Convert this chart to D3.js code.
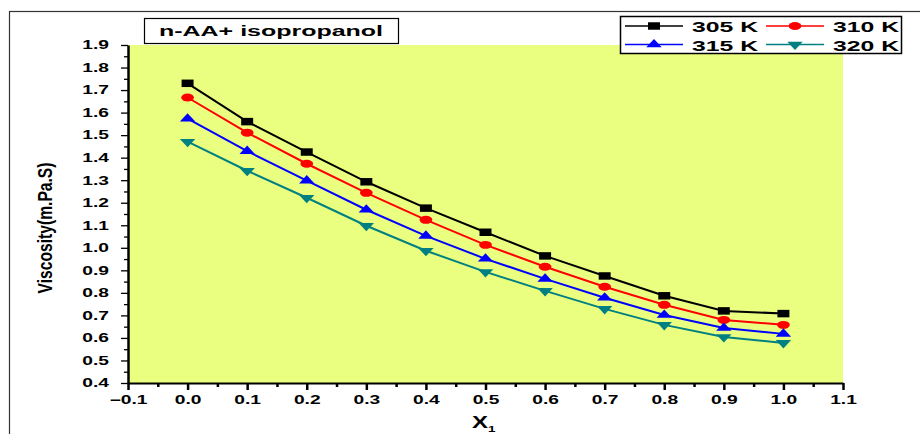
<!DOCTYPE html>
<meta charset="utf-8">
<script src="https://d3js.org/d3.v7.min.js"></script>
<body style="margin:0;background:#fff">
    <div id="viz"></div>
</body>
<style>
    text { font-family: "Liberation Sans", Arial, sans-serif; font-weight: bold; fill: #000; }
</style>
<script>
    // data
    let xValues = [0.0, 0.1, 0.2, 0.3, 0.4, 0.5, 0.6, 0.7, 0.8, 0.9, 1.0];
    let v305 = [1.73, 1.56, 1.425, 1.293, 1.176, 1.069, 0.964, 0.875, 0.787, 0.72, 0.708];
    let v310 = [1.667, 1.511, 1.373, 1.244, 1.124, 1.013, 0.916, 0.827, 0.747, 0.68, 0.658];
    let v315 = [1.573, 1.429, 1.298, 1.169, 1.053, 0.951, 0.862, 0.778, 0.702, 0.644, 0.618];
    let v320 = [1.471, 1.342, 1.222, 1.098, 0.987, 0.893, 0.809, 0.729, 0.658, 0.604, 0.578];
    let seriesNames = ["305 K", "310 K", "315 K", "320 K"];
    let xTicks = [-0.1, 0.0, 0.1, 0.2, 0.3, 0.4, 0.5, 0.6, 0.7, 0.8, 0.9, 1.0, 1.1];
    let yTicks = [0.4, 0.5, 0.6, 0.7, 0.8, 0.9, 1.0, 1.1, 1.2, 1.3, 1.4, 1.5, 1.6, 1.7, 1.8, 1.9];

    let series = [
        {name: seriesNames[0], values: v305, color: "#000000", symbol: d3.symbolSquare, size: 56, rot: 0},
        {name: seriesNames[1], values: v310, color: "#ff0000", symbol: d3.symbolCircle, size: 50, rot: 0},
        {name: seriesNames[2], values: v315, color: "#0000ff", symbol: d3.symbolTriangle, size: 40, rot: 0},
        {name: seriesNames[3], values: v320, color: "#008080", symbol: d3.symbolTriangle, size: 40, rot: 180}
    ];

    let width = 920, height = 434;
    let plot = {left: 128, right: 843, top: 45, bottom: 383};
    let stretch = 1.6; // the original picture is stretched sideways

    let svg = d3.select("#viz").append("svg")
        .attr("width", width)
        .attr("height", height);

    // outer frame
    svg.append("rect")
        .attr("x", 9.5).attr("y", 11.5)
        .attr("width", 930).attr("height", 440)
        .style("fill", "none").style("stroke", "#333").style("stroke-width", 1.2);

    let x = d3.scaleLinear().domain([-0.1, 1.1]).range([plot.left, plot.right]);
    let y = d3.scaleLinear().domain([0.4, 1.9]).range([plot.bottom, plot.top]);

    // plot background
    svg.append("rect")
        .attr("x", plot.left).attr("y", plot.top)
        .attr("width", plot.right - plot.left)
        .attr("height", plot.bottom - plot.top)
        .style("fill", "#eafe80");

    // minor ticks
    let xMinor = xTicks.slice(0, -1).map(d => d + 0.05);
    let yMinor = yTicks.slice(0, -1).map(d => d + 0.05);
    svg.append("g")
        .attr("transform", `translate(0,${plot.bottom})`)
        .call(d3.axisBottom(x).tickValues(xMinor).tickSize(4).tickFormat(""))
        .call(g => g.select(".domain").remove())
        .selectAll("line").attr("stroke-width", 2.5);
    svg.append("g")
        .attr("transform", `translate(${plot.left},0)`)
        .call(d3.axisLeft(y).tickValues(yMinor).tickSize(4).tickFormat(""))
        .call(g => g.select(".domain").remove())
        .selectAll("line").attr("stroke-width", 1.3);

    // major axes
    let xAxis = svg.append("g")
        .attr("transform", `translate(0,${plot.bottom})`)
        .call(d3.axisBottom(x).tickValues(xTicks).tickSize(7).tickSizeOuter(0).tickFormat(d3.format(".1f")));
    xAxis.selectAll(".tick text")
        .attr("font-size", 12).attr("dy", 11)
        .attr("transform", `scale(${stretch},1)`)
        .style("font-family", "Liberation Sans, Arial, sans-serif").style("font-weight", "bold");
    xAxis.selectAll("line").attr("stroke-width", 2.5);
    xAxis.select(".domain").attr("stroke-width", 1.8);

    let yAxis = svg.append("g")
        .attr("transform", `translate(${plot.left},0)`)
        .call(d3.axisLeft(y).tickValues(yTicks).tickSize(7).tickSizeOuter(0).tickFormat(d3.format(".1f")));
    yAxis.selectAll(".tick text")
        .attr("font-size", 12).attr("x", -19 / stretch)
        .attr("transform", `scale(${stretch},1)`)
        .style("font-family", "Liberation Sans, Arial, sans-serif").style("font-weight", "bold");
    yAxis.selectAll("line").attr("stroke-width", 1.3);
    yAxis.select(".domain").attr("stroke-width", 2.5);

    // lines and markers
    let line = d3.line().x((d, i) => x(xValues[i])).y(d => y(d));
    series.forEach(s => {
        svg.append("path")
            .datum(s.values)
            .attr("d", line)
            .style("fill", "none")
            .style("stroke", s.color)
            .style("stroke-width", 2);
    });
    series.forEach(s => {
        svg.append("g").selectAll("path")
            .data(s.values)
            .enter()
            .append("path")
                .attr("d", d3.symbol().type(s.symbol).size(s.size))
                .attr("transform", (d, i) => `translate(${x(xValues[i])},${y(d)}) scale(${stretch},1) rotate(${s.rot})`)
                .style("fill", s.color);
    });

    // title box
    svg.append("rect")
        .attr("x", 144.5).attr("y", 18.5).attr("width", 254).attr("height", 25)
        .style("fill", "#fff").style("stroke", "#000").style("stroke-width", 1.2);
    svg.append("text")
        .attr("x", 159).attr("y", 36)
        .attr("textLength", 224).attr("lengthAdjust", "spacingAndGlyphs")
        .style("font-size", 14)
        .text("n-AA+ isopropanol");

    // legend
    let legend = svg.append("g");
    legend.append("rect")
        .attr("x", 620.5).attr("y", 16.5).attr("width", 281).attr("height", 37)
        .style("fill", "#fff").style("stroke", "#000").style("stroke-width", 1.5);
    let legX = [625, 766], legY = [26, 44.5];
    series.forEach((s, i) => {
        let lx = legX[i % 2], ly = legY[Math.floor(i / 2)];
        legend.append("line")
            .attr("x1", lx).attr("x2", lx + 58)
            .attr("y1", ly).attr("y2", ly)
            .style("stroke", s.color).style("stroke-width", 1.5);
        legend.append("path")
            .attr("d", d3.symbol().type(s.symbol).size(s.size))
            .attr("transform", `translate(${lx + 29},${ly}) scale(${stretch},1) rotate(${s.rot})`)
            .style("fill", s.color);
        legend.append("text")
            .attr("x", lx + 67).attr("y", ly + 6)
            .attr("textLength", 66).attr("lengthAdjust", "spacingAndGlyphs")
            .style("font-size", 15)
            .text(s.name);
    });

    // axis titles
    let xt = svg.append("text")
        .attr("transform", `translate(472,428) scale(1.5,1)`)
        .style("font-size", 16);
    xt.append("tspan").text("X");
    xt.append("tspan").attr("dy", 4).style("font-size", 9).text("1");

    svg.append("text")
        .attr("transform", `translate(52,${(plot.top + plot.bottom) / 2 + 14}) rotate(-90) scale(1,1.4)`)
        .attr("text-anchor", "middle")
        .attr("textLength", 131).attr("lengthAdjust", "spacingAndGlyphs")
        .style("font-size", 15)
        .text("Viscosity(m.Pa.S)");
</script>
